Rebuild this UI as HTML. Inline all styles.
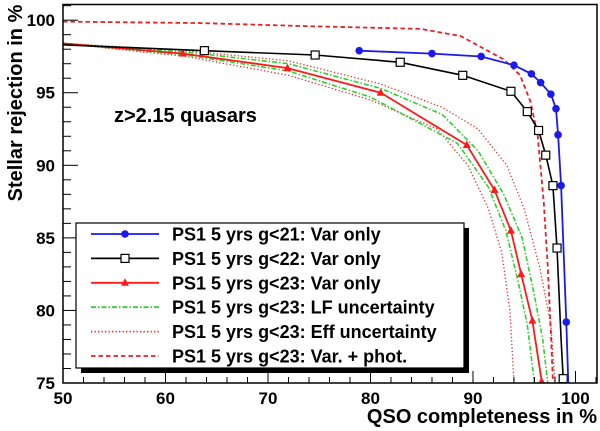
<!DOCTYPE html>
<html><head><meta charset="utf-8"><style>
body{margin:0;background:#fff}
svg{display:block;font-family:"Liberation Sans",Arial,sans-serif;font-weight:bold}
</style></head><body>
<svg id="chart" width="600" height="431" viewBox="0 0 600 431" xmlns="http://www.w3.org/2000/svg">
<g id="plot"></g>
<g id="axes"></g>
<text x="114" y="122" font-size="20">z&gt;2.15 quasars</text>
<text transform="translate(22,103) rotate(-90)" text-anchor="middle" font-size="20">Stellar rejection in %</text>
<text x="597" y="423" text-anchor="end" font-size="20">QSO completeness in %</text>
<g id="legend"></g>
</svg>
<script>
const xTicks=[50,60,70,80,90,100];
const yTicks=[75,80,85,90,95,100];
const blueX=[78.9,86.0,90.8,94.0,95.7,96.6,97.6,98.1,98.3,98.6,99.1,99.3];
const blueY=[97.9,97.7,97.5,96.9,96.3,95.7,94.9,93.9,92.1,88.6,79.2,75.0];
const blueM=[1,1,1,1,1,1,1,1,1,1,1,0];
const blackX=[50,63.8,74.6,82.9,89.0,93.7,95.3,96.4,97.1,97.8,98.2,98.6,98.8];
const blackY=[98.3,97.9,97.6,97.1,96.2,95.1,93.7,92.4,90.7,88.6,84.3,78.0,75.3];
const blackM=[0,1,1,1,1,1,1,1,1,1,1,0,1];
const redX=[50,61.7,71.9,81.0,89.4,92.1,93.7,94.7,95.8,96.7];
const redY=[98.4,97.7,96.7,95.0,91.4,88.3,85.5,82.5,79.3,75.1];
const redM=[0,1,1,1,1,1,1,1,1,1];
const greenHiX=[50,62,72,81,87,90.5,93,94.8,96,96.8,97.3];
const greenHiY=[98.4,97.8,97.0,95.3,93.5,91,88,85,81,78,75];
const greenLoX=[50,62,72,80,88.5,91.5,93.2,94.4,95.3,96];
const greenLoY=[98.4,97.6,96.5,94.7,91.5,88.5,85.5,82,79,75];
const effHiX=[50,62,72,81,87,90.5,93.3,95,96.5,97.6,98.0];
const effHiY=[98.4,97.9,97.2,95.6,94,92.5,90,87,83,79,75];
const effLoX=[50,62,72,80,86.5,89.5,91.5,92.8,93.6,94];
const effLoY=[98.4,97.5,96.2,94.5,92.5,90,87,84,80,75];
const photX=[50,63.5,73.2,84.9,88.8,93.0,94.6,95.6,96.3,96.9,97.3,97.6,97.8];
const photY=[99.9,99.8,99.6,99.4,98.9,97.3,96.2,94.4,92.1,87.5,83.0,78.4,75.1];

const L=63,R=597,T=4.5,B=383,XMIN=50,XMAX=102.1,YMIN=75,YMAX=101.08;
const sx=v=>L+(v-XMIN)/(XMAX-XMIN)*(R-L);
const sy=v=>B-(v-YMIN)/(YMAX-YMIN)*(B-T);
const NS="http://www.w3.org/2000/svg";
function mk(tag,attrs,parent){const e=document.createElementNS(NS,tag);for(const k in attrs)e.setAttribute(k,attrs[k]);parent.appendChild(e);return e;}
const plot=document.getElementById('plot'),axes=document.getElementById('axes'),leg=document.getElementById('legend');
function pathD(xs,ys){return xs.map((x,i)=>(i?'L':'M')+sx(x).toFixed(1)+' '+sy(ys[i]).toFixed(1)).join(' ');}
function marker(type,cx,cy,color,parent){
 let m;
 if(type==='circle')m=mk('circle',{cx:cx,cy:cy,r:3.8,fill:color},parent);
 else if(type==='square')m=mk('rect',{x:cx-4,y:cy-4,width:8,height:8,fill:'#fff',stroke:color,'stroke-width':1.2},parent);
 else m=mk('path',{d:`M${cx} ${cy-4.5}L${cx+4} ${cy+3}L${cx-4} ${cy+3}Z`,fill:color},parent);
 return m;
}
const clip=mk('clipPath',{id:'clp'},document.getElementById('chart'));
mk('rect',{x:L,y:T,width:R-L,height:B-T},clip);
const pg=mk('g',{'clip-path':'url(#clp)'},plot);
function series(name,xs,ys,color,dash,w,mtype,ms){
 const p=mk('path',{d:pathD(xs,ys),fill:'none',stroke:color,'stroke-width':w,'stroke-dasharray':dash},pg);
 
 
 if(mtype)xs.forEach((x,i)=>{if(ms[i]){const m=marker(mtype,sx(x),sy(ys[i]),color,pg);
  
  }});
}
series('eff-upper',effHiX,effHiY,'#e03030','1.3 2.2',1.3);
series('eff-lower',effLoX,effLoY,'#e03030','1.3 2.2',1.3);
series('lf-upper',greenHiX,greenHiY,'#30d030','5 2 1.5 2',1.6);
series('lf-lower',greenLoX,greenLoY,'#30d030','5 2 1.5 2',1.6);
series('var-phot',photX,photY,'#e8202a','4.5 3',1.8);
series('g23-var',redX,redY,'#ff1a1a','',1.8,'triangle',redM);
series('g22-var',blackX,blackY,'#000','',1.6,'square',blackM);
series('g21-var',blueX,blueY,'#1a1aee','',1.8,'circle',blueM);

mk('rect',{x:L,y:T,width:R-L,height:B-T,fill:'none',stroke:'#000','stroke-width':1.5},axes);
for(let v=50;v<=102;v+=2){const big=xTicks.includes(v);mk('line',{x1:sx(v),x2:sx(v),y1:B,y2:B-(big?12:6),stroke:'#000','stroke-width':1},axes);}
for(let v=75;v<=101;v+=1){const big=yTicks.includes(v);mk('line',{x1:L,x2:L+(big?15:8),y1:sy(v),y2:sy(v),stroke:'#000','stroke-width':1},axes);}
xTicks.forEach(v=>{const t=mk('text',{x:sx(v),y:404,'text-anchor':'middle','font-size':17},axes);t.textContent=v;
 
 });
yTicks.forEach(v=>{const t=mk('text',{x:55,y:sy(v)+6,'text-anchor':'end','font-size':17},axes);t.textContent=v;
 
 });

mk('rect',{x:81,y:228,width:388,height:145,fill:'#000'},leg);
mk('rect',{x:76,y:223,width:388,height:145,fill:'#fff',stroke:'#000','stroke-width':1.2},leg);
const labels=['PS1 5 yrs g<21: Var only','PS1 5 yrs g<22: Var only','PS1 5 yrs g<23: Var only','PS1 5 yrs g<23: LF uncertainty','PS1 5 yrs g<23: Eff uncertainty','PS1 5 yrs g<23: Var. + phot.'];
const lcol=['#1a1aee','#000','#ff1a1a','#30d030','#e03030','#e8202a'];
const ldash=['','','','5 2 1.5 2','1.3 2.2','4.5 3'];
const lmark=['circle','square','triangle',null,null,null];
labels.forEach((s,i)=>{const y=234+i*24.4;
 const g=mk('g',{},leg);
 
 
 mk('line',{x1:91,x2:159,y1:y,y2:y,stroke:lcol[i],'stroke-width':1.8,'stroke-dasharray':ldash[i]},g);
 if(lmark[i])marker(lmark[i],125,y,lcol[i],g);
 const t=mk('text',{x:172,y:y+6.5,'font-size':18},g);t.textContent=s;});
</script>
</body></html>
